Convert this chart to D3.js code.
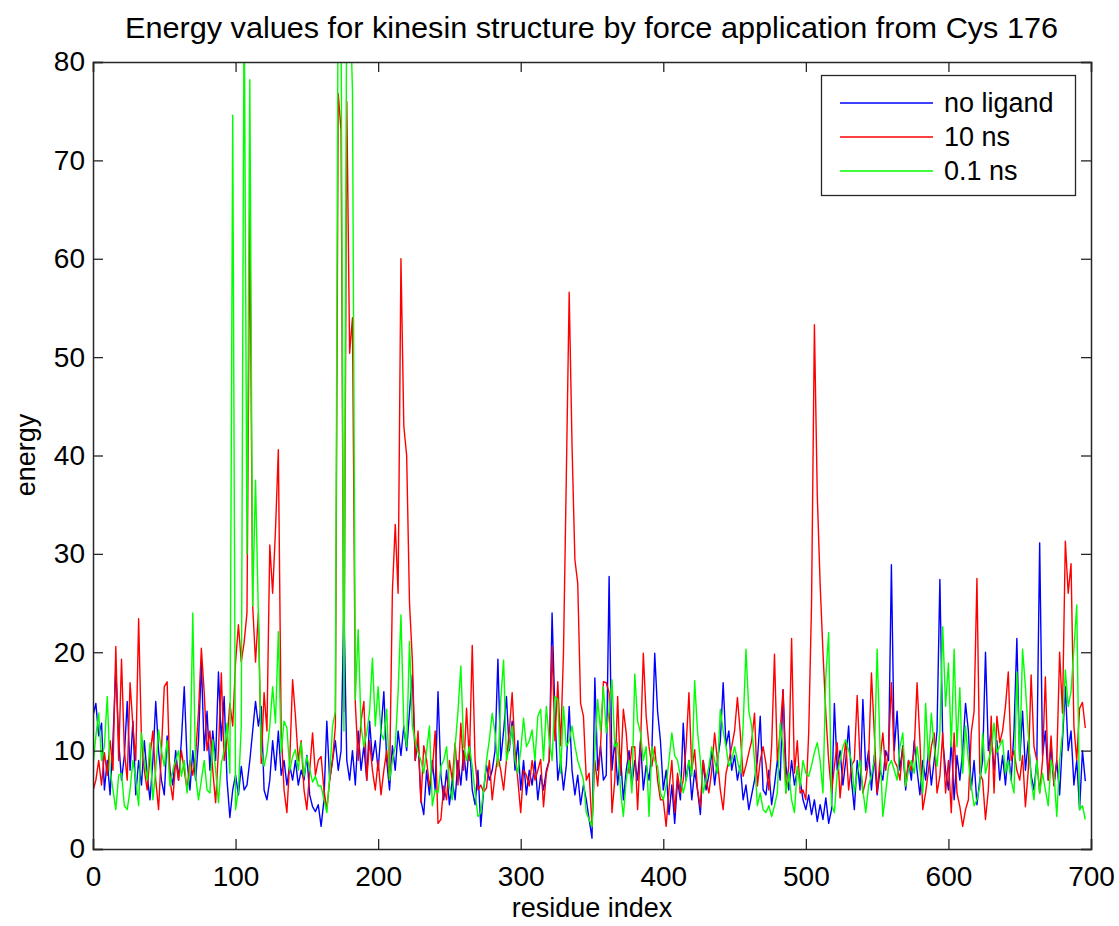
<!DOCTYPE html>
<html><head><meta charset="utf-8">
<script src="https://cdn.jsdelivr.net/npm/d3@7"></script>
<style>body{margin:0;background:#fff}svg{display:block}text{font-family:"Liberation Sans",Arial,sans-serif;fill:#000}</style>
</head><body><div id="chart"></div>
<script>
const chartTitle = "Energy values for kinesin structure by force application from Cys 176";
const xLabel = "residue index";
const yLabel = "energy";
const xTicks = [0,100,200,300,400,500,600,700];
const yTicks = [0,10,20,30,40,50,60,70,80];
const seriesNames = ["no ligand","10 ns","0.1 ns"];
const residues = d3.range(0, 697, 2);

const noLigand = [
13.5,14.8,11.5,12.8,6,9,5.5,11,18.4,11,
7,9.5,15,8,13,5.5,9,6.5,11,7.5,
5,9,15,10,7,5.5,11.5,8,6.5,10,
7,11,16.5,9,6,10,7,11,19,10,
14,8,12,9,18,11,15.5,7,3.2,6,
7.5,5.5,8.4,6,6.5,9,12,15,12.5,14.5,
6,5,7,11,8,12,7.5,9,6.5,8.5,
7,9,6.5,8,7,9.5,5.5,4.3,3.8,4.5,
2.3,5,13,7,9,11,8,10,24.7,9,
7,10,6.5,12,8,10.5,7,13,9,11,
8,12,16,9,6,10.5,8,12,9.5,12.5,
10,14,17.7,9,11,5,3.5,8,5.5,9,
6,16,7.5,5,8,4.5,7,5,9,6.5,
10,7,11,6,4.5,8,2.3,6,8.5,7,
8,10,19.3,9,12,15.5,10,13,8,11,
6,9,5.5,8,6.5,9,5,7.5,6,8,
9,24,13.8,7,9,6,8.5,14.5,8,5.5,
7.5,4.5,6.5,5,3,1.1,17.4,8,10.5,7,
7.5,27.7,8,11,6.5,9.5,5,8,10,6.5,
9,7,11,6,8.5,7,10,19.9,14,11,
6,8,3.5,6.5,2.6,7,5,12.8,7,9,
5,8,6,3.5,9,6,7.5,10,6.5,9,
11,16.9,10.5,12,8,9.5,7,8.5,5,6.5,
4,5.5,7,9,13.5,6,5.5,8,4.5,6.5,
9,7,16.2,8.5,6,9,6.5,8,7,5,
4,5.5,3.5,5,2.8,4.5,3,5.2,2.6,4,
14.8,8,10,6.5,9,12.5,7,4,9,6,
15.2,8,10,6,9.5,5.5,8,7,10,9,
28.9,10,14,8,10.5,6,9,7,11,8,
5.5,9,7,10,6.5,9,12,27.4,11,8,
6,11,5,9.5,7,10,14.8,12,6,9,
4.5,7,9,20,10,12,8,11,7,9.5,
6.5,10,7,12,21.4,9,14,8,11,7.5,
6,9,31.1,9.5,12,7,10.5,6.5,9,5.5,
11,16.5,10,12,6.5,9,4,10,6.9];

const ns10 = [
5.9,7,9,6.5,9.8,7.5,11,8,20.6,9,
19.3,10,7,16.9,12.5,9,23.4,11,8,6,
9.5,12,7,4,10,16.5,17,7,5,9,
7,10,8,6,9,7.5,9.5,14,20.4,15.9,
10,12,8,4.7,10,17.9,9,11,14.8,12.5,
19,22.8,19,21,24,65,24.7,19,24,8.7,
15.9,12,30.9,26,32.4,40.6,12,6,3.7,9,
17.2,13.5,9,11,6,4,8,11.8,7.5,9,
9.4,6,4,7,9,12.5,76.8,73,14,76,
50.4,54,14.8,9,13,15,7,11,8,6,
9,5.5,8,10,7,26.2,33,26,60,43,
40,25,19.2,9,12,4.7,10.5,9,6.4,8,
12,2.6,3,6.4,5,9,7,10.8,6.5,12.8,
8,14.3,9,20.7,9,6,6.5,5.8,6.2,9,
5,7.5,9.5,8,6,9,12,15.9,10,7,
3.7,8,7.5,6.4,9,7,8,9.1,4.3,7.7,
9,20.6,11,17,10.5,20,38,56.6,41,29.4,
27,14.8,13.5,7,7.7,2.3,9,6.4,10.5,17,
16.9,15.9,3.7,7,15.5,7.5,14.2,11.8,7.7,10.4,
10.4,4,10.4,19.9,13.5,10.4,8.4,10.4,7,5,
5,2.3,6,9,3.7,7.7,5.7,7,10.4,15.9,
8,10.1,6,4.3,9,7,5.7,8,11.8,9,
6,4,7.7,9,10.4,12,15.4,11.8,7.4,8.5,
9.8,11,13.8,6.4,9,10.4,8.7,6,10.4,19.8,
9,12,16.2,5.7,8.4,21.4,7.7,11,5.7,6,
5,11.8,25,53.3,36,27,20,13.8,9,5.7,
8.4,10.8,5.2,8.4,11,6,8.5,9,15.6,9,
5.7,7,9,17.9,11.8,5.7,9,11.8,8,10,
16.9,9,8.4,7,10.4,6.4,9,8,10,16.9,
11,4,5.7,8,10.4,11.8,5.7,7.4,11.8,5.7,
9,3.7,11.8,5.7,4.3,2.3,4,5,11.8,14,
27.5,7.7,7,3,6,13.5,5.7,13.5,10.8,12,
14.5,18,9,10,8,7,9.5,4.3,8,17.7,
10.4,9,5.7,9,17.5,7,11.5,6.4,9,20,
13.8,31.3,26,29,12.5,9,14.3,14.9,12.3];

const ns01 = [
8.4,11.5,13.8,9,10.5,15.5,8,6,4,7.5,
7.7,4.4,4,6,9,7,4.4,11.8,9,7,
10.8,5,8,12.1,10,8.4,11,6.4,8,9,
10,7.4,9,5.7,8,24,7.4,5,7,9,
6,5.7,11.1,8,4.7,8.7,10,12.8,7.7,74.6,
4,6,12.5,88,30,78.2,24.7,37.5,23.7,10,
8.4,9.8,12.5,16.5,12.8,22.1,9.8,13,12.3,8,
9.4,10.1,8,10.8,7.4,9.4,8.1,6.8,7.4,6.4,
6.4,5,3.7,7.4,12.5,14,90,85,12,90,
88,77,15.2,22.3,12.5,10.4,11.8,14,19.4,12.5,
16.5,11.8,11.1,14.2,7,9,10.4,15.9,23.8,12.5,
10.4,21.1,12.5,11,9.8,9,7.7,10,12.5,4.4,
6,5.7,8.4,9,10.4,6.4,5,10.4,14,18.6,
10.4,9,10.4,8.4,5.7,3.3,3.7,6,9,11.1,
13.8,11.8,8.4,15.2,19.2,9,10.4,12.5,9,7.7,
10,13.3,10.4,11,12.1,9,13.5,14.2,9,14.5,
11,9,15.5,15.2,7.7,14.5,10.4,11,12.5,10.5,
9,8,7,3.7,3,2.3,10,15.2,12,16.5,
11.8,14,17.2,10.4,10.8,6,3.3,7,9,5.7,
17.8,13,11.8,9,10.4,3.3,10.4,9,8.4,5.7,
5,6.4,9,11.8,9.5,9,7.4,5.7,7,9,
7.4,17.1,12,9,5.7,7,8.4,10.4,9,7.7,
14.2,12,10.4,8.4,9,10.4,9,7.7,12.5,20.3,
14,12.5,9,4.4,5.7,4,3.7,4.4,3.3,4.4,
5.7,12.8,10.4,5.7,7.7,5,3.7,8.4,6.4,9,
7.7,7.4,8.5,9.8,10.8,9,5.7,17.5,22,4.5,
3.7,7.7,9,10.4,11.1,10,9,5.7,7.7,9,
6,3.7,6.4,7.5,9,20.3,10.4,3.3,5.7,8.4,
9,8,7,10.4,11.8,6.4,8,9,7.7,10.4,
8,5.7,14.8,9,13.8,10.4,8.4,12,22.6,14.5,
18.9,10.4,20.3,10.4,16.4,7.7,12.5,9,6.4,4.4,
5,6.4,11.8,7.7,9,10,12.8,9.8,10.5,11.1,
7.7,9,7,5.7,18,9,20.3,16.5,11.8,7,
5,9,5.7,7.7,6,4.4,9,7.7,3.3,9,
11.8,18.2,14.5,16,20.3,24.8,4,4.4,3];

const seriesValues = [noLigand, ns10, ns01];
const seriesColors = ["#0000ff","#ff0000","#00ff00"];

const W = 1119, H = 926;
const margin = {left:93, top:62, right:1119-1091, bottom:926-849};
const iw = W - margin.left - margin.right, ih = H - margin.top - margin.bottom;
const FS = 27;

const svg = d3.select("#chart").append("svg").attr("width", W).attr("height", H);
svg.append("rect").attr("width", W).attr("height", H).attr("fill", "#fff");

const x = d3.scaleLinear().domain([0,700]).range([0, iw]);
const y = d3.scaleLinear().domain([0,80]).range([ih, 0]);

const g = svg.append("g").attr("transform", `translate(${margin.left},${margin.top})`);
svg.append("defs").append("clipPath").attr("id","clip").append("rect").attr("width", iw).attr("height", ih);

const line = d3.line().x((d,i)=>x(residues[i])).y(d=>y(d));
const plot = g.append("g").attr("clip-path","url(#clip)");
seriesValues.forEach((vals,k)=>{
  plot.append("path").datum(vals).attr("d", line).attr("fill","none")
    .attr("stroke", seriesColors[k]).attr("stroke-width",1.4).attr("stroke-linejoin","round");
});

const axisColor = "#262626";
const xAxisB = g.append("g").attr("transform",`translate(0,${ih})`)
  .call(d3.axisBottom(x).tickValues(xTicks).tickSize(-10).tickPadding(17).tickFormat(d3.format("d")));
const xAxisT = g.append("g")
  .call(d3.axisTop(x).tickValues(xTicks).tickSize(-10).tickFormat(""));
const yAxisL = g.append("g")
  .call(d3.axisLeft(y).tickValues(yTicks).tickSize(-10).tickPadding(8).tickFormat(d3.format("d")));
const yAxisR = g.append("g").attr("transform",`translate(${iw},0)`)
  .call(d3.axisRight(y).tickValues(yTicks).tickSize(-10).tickFormat(""));
[xAxisB,xAxisT,yAxisL,yAxisR].forEach(a=>{
  a.select(".domain").attr("stroke",axisColor).attr("stroke-width",1.5);
  a.selectAll(".tick line").attr("stroke",axisColor).attr("stroke-width",1.3);
  a.selectAll("text").attr("font-size",FS+1).attr("font-family","Liberation Sans, Arial, sans-serif").attr("fill","#000");
});

svg.append("text").attr("x", 591.5).attr("y", 38).attr("text-anchor","middle")
  .attr("font-size",29).attr("textLength",933).attr("lengthAdjust","spacingAndGlyphs").text(chartTitle);
svg.append("text").attr("x", 592).attr("y", 917).attr("text-anchor","middle")
  .attr("font-size",FS).text(xLabel);
svg.append("text").attr("transform","translate(35,455) rotate(-90)").attr("text-anchor","middle")
  .attr("font-size",FS).text(yLabel);

const lg = svg.append("g");
lg.append("rect").attr("x",821.5).attr("y",75.5).attr("width",254).attr("height",120)
  .attr("fill","#fff").attr("stroke",axisColor).attr("stroke-width",1.3);
seriesNames.forEach((n,k)=>{
  const yy = 103 + k*34;
  lg.append("line").attr("x1",840).attr("x2",933).attr("y1",yy).attr("y2",yy)
    .attr("stroke",seriesColors[k]).attr("stroke-width",1.4);
  lg.append("text").attr("x",944).attr("y",yy).attr("dy","0.35em").attr("font-size",FS).text(n);
});
</script></body></html>
